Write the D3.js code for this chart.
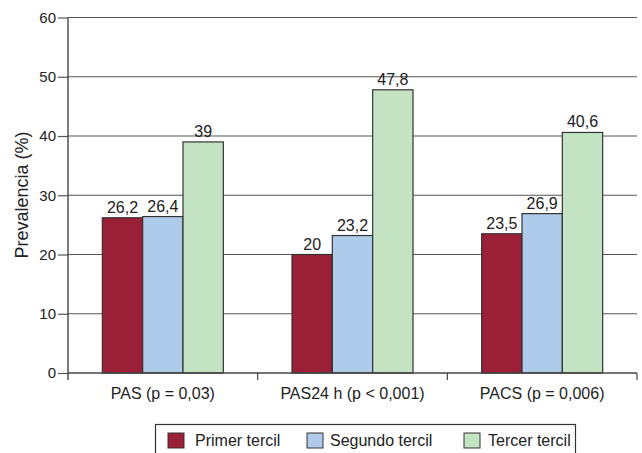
<!DOCTYPE html>
<html><head><meta charset="utf-8">
<script src="https://cdn.jsdelivr.net/npm/d3@7"></script>
<style>body{margin:0;background:#fff}svg{display:block;font-family:"Liberation Sans",Arial,sans-serif}</style>
</head><body><svg id="c" width="642" height="453"></svg>
<script>
const categories = ["PAS (p = 0,03)", "PAS24 h (p < 0,001)", "PACS (p = 0,006)"];
const seriesNames = ["Primer tercil", "Segundo tercil", "Tercer tercil"];
const primer = [26.2, 20, 23.5];
const segundo = [26.4, 23.2, 26.9];
const tercer = [39, 47.8, 40.6];
const valueLabels = [["26,2","20","23,5"],["26,4","23,2","26,9"],["39","47,8","40,6"]];
const yTicks = [0,10,20,30,40,50,60];
const colors = ["#9b1f36", "#aecbeb", "#c4e3c3"];
const seriesValues = [primer, segundo, tercer];

const svg = d3.select("#c");
const L = 68, R = 637, T = 17.5, B = 373;
const y = d3.scaleLinear().domain([0,60]).range([B,T]);
const x0 = d3.scaleBand().domain(categories).range([L,R]);
const groupW = 121;
const x1 = d3.scaleBand().domain(seriesNames).range([0,groupW]);

// gridlines
svg.append("g").selectAll("line").data(yTicks.filter(d=>d>0)).join("line")
  .attr("x1",L).attr("x2",R).attr("y1",d=>y(d)).attr("y2",d=>y(d))
  .attr("stroke","#555").attr("stroke-width",1.2);

// y axis
const ya = svg.append("g").attr("transform",`translate(${L},0)`)
  .call(d3.axisLeft(y).tickValues(yTicks).tickSize(10).tickPadding(2));
ya.select(".domain").remove();
ya.selectAll(".tick line").attr("stroke","#555").attr("stroke-width",1.2);
ya.selectAll(".tick text").attr("font-size",15).attr("fill","#222").attr("font-family","Liberation Sans, Arial, sans-serif");
svg.append("line").attr("x1",L).attr("x2",L).attr("y1",T).attr("y2",B+7)
  .attr("stroke","#444").attr("stroke-width",1.4);

// bars
seriesNames.forEach((s,si)=>{
  const g = svg.append("g");
  g.selectAll("rect").data(categories).join("rect")
    .attr("x",(c)=>x0(c)+(x0.bandwidth()-groupW)/2+x1(s))
    .attr("y",(c,i)=>y(seriesValues[si][i]))
    .attr("width",x1.bandwidth())
    .attr("height",(c,i)=>B-y(seriesValues[si][i]))
    .attr("fill",colors[si]).attr("stroke","#333").attr("stroke-width",1.2);
  g.selectAll("text").data(categories).join("text")
    .attr("x",(c)=>x0(c)+(x0.bandwidth()-groupW)/2+x1(s)+x1.bandwidth()/2)
    .attr("y",(c,i)=>y(seriesValues[si][i])-5)
    .attr("text-anchor","middle").attr("font-size",16).attr("fill","#222")
    .text((c,i)=>valueLabels[si][i]);
});

// x axis
svg.append("line").attr("x1",L).attr("x2",R).attr("y1",B).attr("y2",B)
  .attr("stroke","#444").attr("stroke-width",1.4);
const bounds = categories.map(c=>x0(c)+x0.bandwidth());
svg.append("g").selectAll("line").data(bounds).join("line")
  .attr("x1",d=>d).attr("x2",d=>d).attr("y1",B).attr("y2",B+7)
  .attr("stroke","#444").attr("stroke-width",1.2);
svg.append("g").selectAll("text").data(categories).join("text")
  .attr("x",c=>x0(c)+x0.bandwidth()/2).attr("y",399)
  .attr("text-anchor","middle").attr("font-size",16).attr("fill","#222").text(c=>c);

// y title
svg.append("text").attr("transform","translate(28,195) rotate(-90)")
  .attr("text-anchor","middle").attr("font-size",18).attr("fill","#222")
  .text("Prevalencia (%)");

// legend
const lg = svg.append("g");
lg.append("rect").attr("x",155.5).attr("y",424.5).attr("width",420).attr("height",40)
  .attr("fill","none").attr("stroke","#333").attr("stroke-width",1.2);
const legX = [168, 307, 464];
const legTextX = [195, 330, 488];
seriesNames.forEach((s,i)=>{
  lg.append("rect").attr("x",legX[i]).attr("y",433).attr("width",16).attr("height",15)
    .attr("fill",colors[i]).attr("stroke","#333").attr("stroke-width",1);
  lg.append("text").attr("x",legTextX[i]).attr("y",446)
    .attr("font-size",16).attr("fill","#222").text(s);
});
</script></body></html>
